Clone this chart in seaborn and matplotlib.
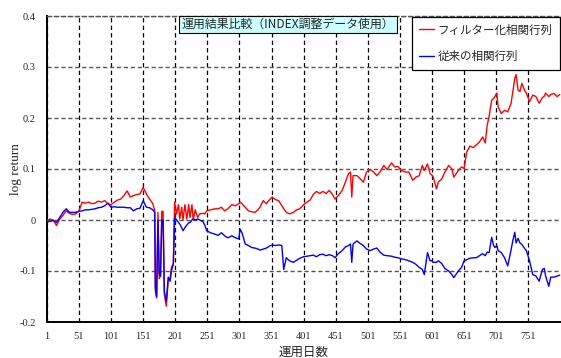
import matplotlib
matplotlib.use("Agg")
import matplotlib.pyplot as plt
from matplotlib.lines import Line2D
import pandas as pd
import seaborn as sns

# trading day index
days = [
    1, 6, 11, 16, 21, 26, 31, 36, 41, 46, 51, 56, 61, 66, 71, 76, 81, 86, 91, 96,
    101, 106, 111, 116, 121, 126, 131, 136, 141, 146, 151, 156, 161, 166, 169, 170,
    172, 174, 176, 178, 180, 182, 184, 187, 190, 193, 195, 198, 200, 203, 206, 208,
    211, 213, 216, 219, 222, 224, 227, 229, 232, 236, 239, 244, 247, 250, 256, 263,
    268, 273, 278, 283, 289, 295, 300, 302, 305, 310, 315, 320, 325, 330, 333, 338,
    343, 348, 352, 357, 362, 367, 370, 374, 379, 385, 390, 395, 401, 406, 411, 416,
    421, 426, 431, 436, 441, 446, 450, 455, 461, 466, 471, 474, 476, 478, 484, 489,
    494, 499, 505, 510, 515, 520, 526, 531, 538, 543, 548, 553, 560, 565, 571, 576,
    581, 586, 589, 594, 598, 601, 603, 608, 611, 616, 621, 627, 632, 635, 642, 647,
    651, 655, 660, 665, 670, 675, 680, 684, 687, 690, 694, 697, 699, 702, 704, 709,
    714, 719, 724, 727, 730, 732, 735, 738, 741, 746, 748, 753, 758, 763, 768, 773,
    776, 778, 783, 786, 791, 796, 800,
]

# cumulative log return, filtered correlation matrix
filtered = [
    -0.001, 0.002, 0.000, -0.011, 0.002, 0.009, 0.018, 0.013, 0.011, 0.012, 0.018, 0.035,
    0.033, 0.035, 0.032, 0.033, 0.037, 0.035, 0.038, 0.032, 0.030, 0.035, 0.039, 0.041,
    0.048, 0.057, 0.045, 0.048, 0.050, 0.051, 0.064, 0.051, 0.041, 0.032, 0.018, -0.140,
    -0.153, 0.015, -0.115, -0.110, 0.017, 0.017, -0.146, -0.169, -0.120, -0.113, -0.093, -0.085,
    0.035, 0.012, 0.030, 0.002, 0.025, 0.000, 0.030, 0.002, 0.030, 0.005, 0.030, 0.000,
    0.020, 0.005, 0.012, 0.013, 0.012, 0.018, 0.020, 0.022, 0.022, 0.025, 0.018, 0.022,
    0.030, 0.028, 0.032, 0.035, 0.032, 0.025, 0.018, 0.016, 0.015, 0.020, 0.025, 0.038,
    0.032, 0.040, 0.045, 0.040, 0.038, 0.028, 0.022, 0.015, 0.012, 0.015, 0.020, 0.022,
    0.030, 0.035, 0.039, 0.050, 0.056, 0.052, 0.056, 0.052, 0.058, 0.050, 0.041, 0.048,
    0.058, 0.074, 0.091, 0.094, 0.045, 0.087, 0.087, 0.081, 0.074, 0.094, 0.099, 0.094,
    0.087, 0.094, 0.107, 0.099, 0.112, 0.104, 0.105, 0.097, 0.094, 0.094, 0.078, 0.084,
    0.087, 0.107, 0.097, 0.110, 0.091, 0.088, 0.084, 0.061, 0.075, 0.080, 0.094, 0.107,
    0.100, 0.084, 0.097, 0.104, 0.101, 0.133, 0.145, 0.142, 0.147, 0.153, 0.163, 0.151,
    0.186, 0.203, 0.235, 0.238, 0.242, 0.249, 0.222, 0.209, 0.215, 0.212, 0.228, 0.252,
    0.278, 0.285, 0.255, 0.252, 0.268, 0.252, 0.249, 0.232, 0.245, 0.242, 0.229, 0.240,
    0.243, 0.249, 0.242, 0.246, 0.248, 0.242, 0.246,
]

# cumulative log return, conventional correlation matrix
conventional = [
    -0.003, -0.003, -0.001, -0.005, 0.005, 0.015, 0.022, 0.015, 0.015, 0.015, 0.017, 0.018,
    0.020, 0.020, 0.021, 0.022, 0.024, 0.025, 0.028, 0.033, 0.025, 0.026, 0.025, 0.025,
    0.025, 0.024, 0.024, 0.018, 0.022, 0.023, 0.038, 0.025, 0.024, 0.020, 0.015, -0.133,
    -0.150, 0.000, -0.105, -0.110, 0.000, 0.000, -0.140, -0.160, -0.112, -0.120, -0.100, -0.087,
    0.005, 0.000, -0.005, -0.008, -0.015, -0.021, -0.015, -0.010, -0.005, -0.005, 0.000, 0.002,
    0.000, 0.002, 0.000, -0.003, -0.010, -0.021, -0.025, -0.028, -0.030, -0.025, -0.031, -0.035,
    -0.031, -0.035, -0.037, -0.018, -0.025, -0.047, -0.050, -0.054, -0.055, -0.057, -0.059, -0.057,
    -0.055, -0.051, -0.049, -0.050, -0.049, -0.050, -0.097, -0.074, -0.080, -0.083, -0.079, -0.075,
    -0.072, -0.071, -0.070, -0.069, -0.072, -0.068, -0.067, -0.070, -0.068, -0.070, -0.074, -0.066,
    -0.060, -0.053, -0.050, -0.047, -0.083, -0.047, -0.041, -0.046, -0.050, -0.057, -0.060, -0.057,
    -0.055, -0.063, -0.069, -0.070, -0.071, -0.073, -0.074, -0.076, -0.078, -0.080, -0.083, -0.087,
    -0.093, -0.097, -0.107, -0.064, -0.080, -0.080, -0.083, -0.083, -0.080, -0.085, -0.095, -0.100,
    -0.107, -0.113, -0.100, -0.093, -0.080, -0.078, -0.075, -0.074, -0.074, -0.070, -0.066, -0.070,
    -0.063, -0.064, -0.034, -0.050, -0.054, -0.050, -0.060, -0.064, -0.074, -0.090, -0.060, -0.040,
    -0.024, -0.045, -0.036, -0.045, -0.048, -0.057, -0.060, -0.080, -0.107, -0.110, -0.120, -0.097,
    -0.095, -0.110, -0.130, -0.112, -0.112, -0.110, -0.108,
]

series_names = ["フィルター化相関行列", "従来の相関行列"]
series_colors = ["#ff0000", "#0000ff"]
x_ticks = [1, 51, 101, 151, 201, 251, 301, 351, 401, 451, 501, 551, 601, 651, 701, 751]
y_ticks = [-0.2, -0.1, 0.0, 0.1, 0.2, 0.3, 0.4]
y_tick_labels = ["-0.2", "-0.1", "0", "0.1", "0.2", "0.3", "0.4"]
title_text = "運用結果比較（INDEX調整データ使用）"
x_label = "運用日数"
y_label = "log return"

sns.set_style("white")
plt.rcParams["font.family"] = ["Noto Sans CJK JP", "DejaVu Sans"]

n = len(days)
df = pd.DataFrame({
    "day": days + days,
    "value": filtered + conventional,
    "series": [series_names[0]] * n + [series_names[1]] * n,
})

fig = plt.figure(figsize=(5.61, 3.58), dpi=100)
ax = fig.add_axes([46.9 / 561, 1 - 322 / 358, 1 - 46.9 / 561, (322 - 16) / 358])

sns.lineplot(data=df, x="day", y="value", hue="series", hue_order=series_names,
             palette=series_colors, linewidth=1.0, estimator=None, sort=False,
             legend=False, ax=ax, zorder=3)

ax.set_xlim(1, 802)
ax.set_ylim(-0.2, 0.4)
ax.set_xticks(x_ticks)
ax.set_xticklabels([str(t) for t in x_ticks], family="Liberation Serif", fontsize=7.5)
ax.set_yticks(y_ticks)
ax.set_yticklabels(y_tick_labels, family="Liberation Serif", fontsize=7.5)
ax.tick_params(axis="both", length=0)
ax.tick_params(axis="x", pad=7)
ax.tick_params(axis="y", pad=8)

ax.xaxis.grid(True, color="black", linestyle=(0, (3.5, 2.5)), linewidth=0.9)
ax.yaxis.grid(True, color="#555555", linestyle=(0, (3, 2)), linewidth=1.0)
ax.set_axisbelow(True)

for side in ("left", "bottom"):
    ax.spines[side].set_color("black")
    ax.spines[side].set_linewidth(1.4)
ax.spines["right"].set_visible(False)
ax.spines["top"].set_color("#555555")
ax.spines["top"].set_linestyle((0, (3, 2)))
ax.spines["top"].set_linewidth(1.0)

ax.set_xlabel(x_label, fontsize=9, labelpad=4)
ax.set_ylabel(y_label, family="Liberation Serif", fontsize=9.5)
ax.yaxis.set_label_coords(-(46.9 - 22.5) / 514, 0.5)

fig.text(288 / 561, 1 - 24.5 / 358, title_text, ha="center", va="center", fontsize=8.6,
         bbox=dict(boxstyle="square,pad=0.2", facecolor="#ccffff", edgecolor="black",
                   linewidth=0.8), zorder=5)

handles = [Line2D([], [], color=c, linewidth=1.0) for c in series_colors]
leg = fig.legend(handles, series_names, loc="upper right",
                 bbox_to_anchor=(559.5 / 561, 1 - 16.5 / 358), borderaxespad=0,
                 fontsize=8.3, frameon=True, fancybox=False, edgecolor="black",
                 framealpha=1, handlelength=1.3, handletextpad=0.3,
                 labelspacing=1.2, borderpad=0.6)
leg.get_frame().set_linewidth(0.9)

fig.savefig("out.png", dpi=100)
